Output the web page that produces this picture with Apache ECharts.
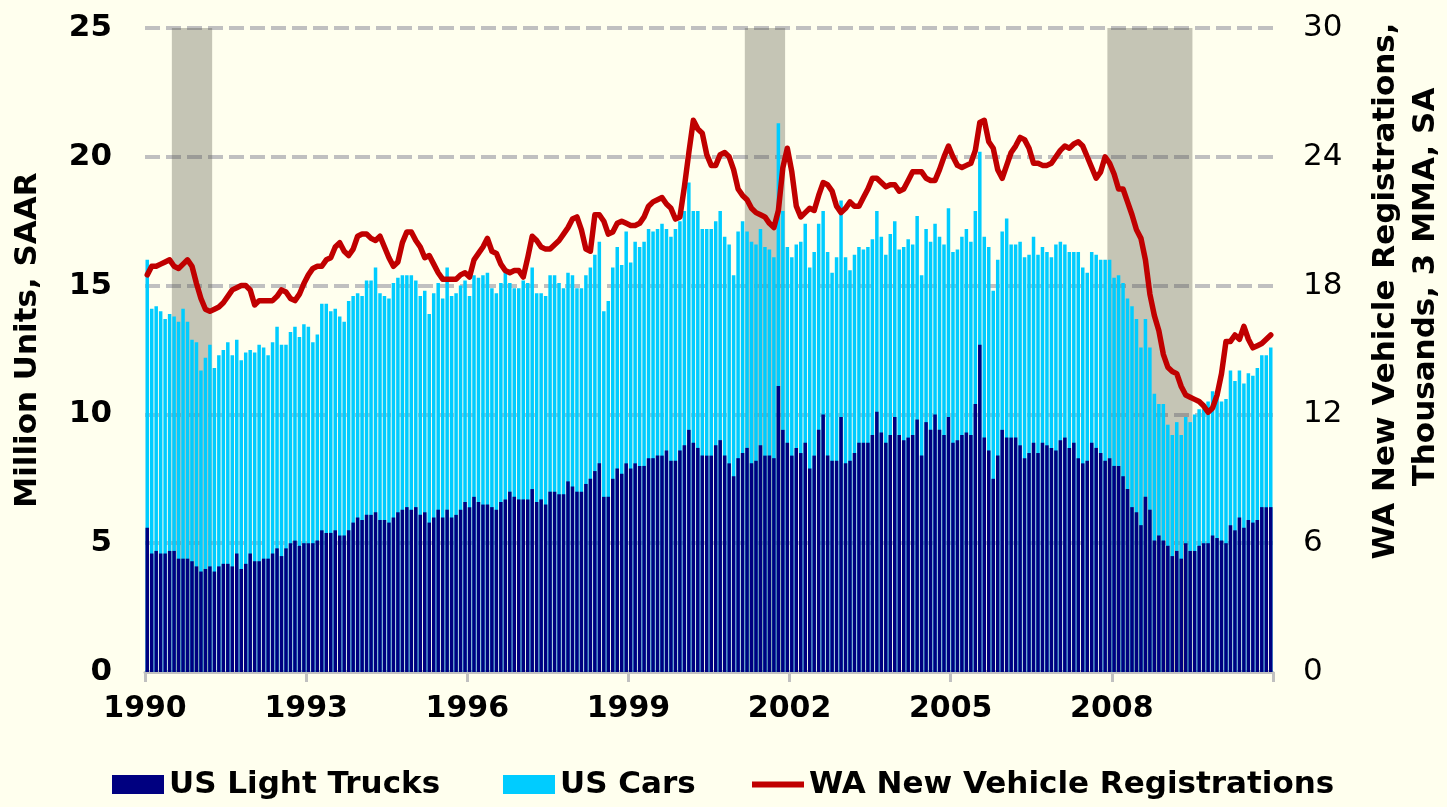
<!DOCTYPE html>
<html>
<head>
<meta charset="utf-8">
<title>US Light Vehicle Sales and WA New Vehicle Registrations</title>
<script src="https://cdn.jsdelivr.net/npm/echarts@6/dist/echarts.min.js"></script>
<style>
    html, body { margin: 0; padding: 0; background: #FFFFEE; }
    #chart { width: 1447px; height: 807px; }
</style>
</head>
<body>
<div id="chart"></div>
<script>
// Monthly data, Jan 1990 .. Dec 2010 (one row per year)
const yearTicks = ['1990', '1993', '1996', '1999', '2002', '2005', '2008'];

// US Light Trucks, million units SAAR
const trucks = [
    5.6, 4.6, 4.7, 4.6, 4.6, 4.7, 4.7, 4.4, 4.4, 4.4, 4.3, 4.1,
    3.9, 4.0, 4.1, 3.9, 4.1, 4.2, 4.2, 4.1, 4.6, 4.0, 4.2, 4.6,
    4.3, 4.3, 4.4, 4.4, 4.6, 4.8, 4.5, 4.8, 5.0, 5.1, 4.9, 5.0,
    5.0, 5.0, 5.1, 5.5, 5.4, 5.4, 5.5, 5.3, 5.3, 5.5, 5.8, 6.0,
    5.9, 6.1, 6.1, 6.2, 5.9, 5.9, 5.8, 6.0, 6.2, 6.3, 6.4, 6.3,
    6.4, 6.1, 6.2, 5.8, 6.0, 6.3, 6.0, 6.3, 6.0, 6.1, 6.3, 6.6,
    6.4, 6.8, 6.6, 6.5, 6.5, 6.4, 6.3, 6.6, 6.7, 7.0, 6.8, 6.7,
    6.7, 6.7, 7.1, 6.6, 6.7, 6.5, 7.0, 7.0, 6.9, 6.9, 7.4, 7.2,
    7.0, 7.0, 7.3, 7.5, 7.8, 8.1, 6.8, 6.8, 7.5, 7.9, 7.7, 8.1,
    7.9, 8.1, 8.0, 8.0, 8.3, 8.3, 8.4, 8.4, 8.6, 8.2, 8.2, 8.6,
    8.8, 9.4, 8.9, 8.7, 8.4, 8.4, 8.4, 8.8, 9.0, 8.4, 8.1, 7.6,
    8.3, 8.5, 8.7, 8.1, 8.2, 8.8, 8.4, 8.4, 8.3, 11.1, 9.4, 8.9,
    8.4, 8.7, 8.5, 8.9, 7.9, 8.4, 9.4, 10.0, 8.4, 8.2, 8.2, 9.9,
    8.1, 8.2, 8.5, 8.9, 8.9, 8.9, 9.2, 10.1, 9.3, 8.9, 9.2, 9.9,
    9.2, 9.0, 9.1, 9.2, 9.8, 8.4, 9.7, 9.4, 10.0, 9.4, 9.2, 9.9,
    8.9, 9.0, 9.2, 9.3, 9.2, 10.4, 12.7, 9.1, 8.6, 7.5, 8.4, 9.4,
    9.1, 9.1, 9.1, 8.8, 8.3, 8.5, 8.9, 8.5, 8.9, 8.8, 8.7, 8.6,
    9.0, 9.1, 8.7, 8.9, 8.3, 8.1, 8.2, 8.9, 8.7, 8.5, 8.2, 8.3,
    8.0, 8.0, 7.6, 7.1, 6.4, 6.2, 5.7, 6.8, 6.3, 5.1, 5.3, 5.1,
    4.9, 4.5, 4.7, 4.4, 5.0, 4.7, 4.7, 4.9, 5.0, 5.0, 5.3, 5.2,
    5.1, 5.0, 5.7, 5.5, 6.0, 5.6, 5.9, 5.8, 5.9, 6.4, 6.4, 6.4
];

// US Cars, million units SAAR (stacked on top of trucks)
const cars = [
    10.4, 9.5, 9.5, 9.4, 9.1, 9.2, 9.1, 9.2, 9.7, 9.2, 8.6, 8.7,
    7.8, 8.2, 8.6, 7.9, 8.2, 8.3, 8.6, 8.2, 8.3, 8.1, 8.2, 7.9,
    8.1, 8.4, 8.2, 7.9, 8.2, 8.6, 8.2, 7.9, 8.2, 8.3, 8.1, 8.5,
    8.4, 7.8, 8.0, 8.8, 8.9, 8.6, 8.6, 8.5, 8.3, 8.9, 8.8, 8.7,
    8.7, 9.1, 9.1, 9.5, 8.8, 8.7, 8.7, 9.1, 9.1, 9.1, 9.0, 9.1,
    8.8, 8.5, 8.6, 8.1, 8.7, 8.8, 8.5, 9.4, 8.6, 8.6, 8.7, 8.6,
    8.2, 8.6, 8.7, 8.9, 9.0, 8.5, 8.4, 8.5, 8.8, 8.1, 8.1, 8.2,
    8.5, 8.4, 8.6, 8.1, 8.0, 8.1, 8.4, 8.4, 8.2, 8.0, 8.1, 8.2,
    7.9, 7.9, 8.1, 8.2, 8.4, 8.6, 7.2, 7.6, 8.2, 8.6, 8.1, 9.0,
    8.0, 8.6, 8.5, 8.7, 8.9, 8.8, 8.8, 9.0, 8.6, 8.7, 9.0, 8.9,
    9.1, 9.6, 9.0, 9.2, 8.8, 8.8, 8.8, 8.7, 8.9, 8.5, 8.5, 7.8,
    8.8, 9.0, 8.4, 8.6, 8.4, 8.4, 8.1, 8.0, 7.8, 10.2, 8.5, 7.6,
    7.7, 7.9, 8.2, 8.5, 7.8, 7.9, 8.0, 7.9, 7.9, 7.3, 7.9, 8.4,
    8.0, 7.4, 7.7, 7.6, 7.5, 7.6, 7.6, 7.8, 7.6, 7.3, 7.8, 7.6,
    7.2, 7.5, 7.7, 7.4, 7.9, 7.0, 7.5, 7.3, 7.4, 7.5, 7.4, 8.1,
    7.4, 7.4, 7.7, 7.9, 7.5, 7.5, 7.5, 7.8, 7.9, 7.3, 7.6, 7.7,
    8.5, 7.5, 7.5, 7.9, 7.8, 7.7, 8.0, 7.7, 7.6, 7.5, 7.4, 8.0,
    7.7, 7.5, 7.6, 7.4, 8.0, 7.6, 7.3, 7.4, 7.5, 7.5, 7.8, 7.7,
    7.3, 7.4, 7.5, 7.4, 7.8, 7.5, 6.9, 6.9, 6.3, 5.7, 5.1, 5.3,
    4.7, 4.7, 5.0, 4.8, 4.9, 5.0, 5.3, 5.3, 5.2, 5.5, 5.6, 5.6,
    5.4, 5.6, 6.0, 5.8, 5.7, 5.6, 5.7, 5.7, 5.9, 5.9, 5.9, 6.2
];

// WA new vehicle registrations, thousands, 3 MMA, SA (right axis)
const waRegs = [
    18.5, 18.9, 18.9, 19.0, 19.1, 19.2, 18.9, 18.8, 19.0, 19.2, 18.9, 18.1,
    17.4, 16.9, 16.8, 16.9, 17.0, 17.2, 17.5, 17.8, 17.9, 18.0, 18.0, 17.8,
    17.1, 17.3, 17.3, 17.3, 17.3, 17.5, 17.8, 17.7, 17.4, 17.3, 17.6, 18.1,
    18.5, 18.8, 18.9, 18.9, 19.2, 19.3, 19.8, 20.0, 19.6, 19.4, 19.7, 20.3,
    20.4, 20.4, 20.2, 20.1, 20.3, 19.8, 19.3, 18.9, 19.1, 20.0, 20.5, 20.5,
    20.1, 19.8, 19.3, 19.4, 19.0, 18.6, 18.3, 18.3, 18.3, 18.3, 18.5, 18.6,
    18.4, 19.2, 19.5, 19.8, 20.2, 19.6, 19.5, 19.0, 18.7, 18.6, 18.7, 18.7,
    18.4, 19.3, 20.3, 20.1, 19.8, 19.7, 19.7, 19.9, 20.1, 20.4, 20.7, 21.1,
    21.2, 20.6, 19.7, 19.6, 21.3, 21.3, 21.0, 20.4, 20.5, 20.9, 21.0, 20.9,
    20.8, 20.8, 20.9, 21.2, 21.7, 21.9, 22.0, 22.1, 21.8, 21.6, 21.1, 21.2,
    22.6, 24.2, 25.7, 25.3, 25.1, 24.1, 23.6, 23.6, 24.1, 24.2, 24.0, 23.4,
    22.5, 22.2, 22.0, 21.6, 21.4, 21.3, 21.2, 20.9, 20.7, 21.5, 23.5, 24.4,
    23.3, 21.7, 21.2, 21.4, 21.6, 21.5, 22.2, 22.8, 22.7, 22.4, 21.7, 21.4,
    21.6, 21.9, 21.7, 21.7, 22.1, 22.5, 23.0, 23.0, 22.8, 22.6, 22.7, 22.7,
    22.4, 22.5, 22.9, 23.3, 23.3, 23.3, 23.0, 22.9, 22.9, 23.4, 24.0, 24.5,
    24.0, 23.6, 23.5, 23.6, 23.7, 24.3, 25.6, 25.7, 24.7, 24.4, 23.4, 23.0,
    23.6, 24.2, 24.5, 24.9, 24.8, 24.4, 23.7, 23.7, 23.6, 23.6, 23.7, 24.0,
    24.3, 24.5, 24.4, 24.6, 24.7, 24.5, 24.0, 23.5, 23.0, 23.3, 24.0, 23.7,
    23.2, 22.5, 22.5, 21.9, 21.3, 20.6, 20.2, 19.2, 17.6, 16.6, 15.9, 14.8,
    14.2, 14.0, 13.9, 13.3, 12.9, 12.8, 12.7, 12.6, 12.4, 12.1, 12.3, 12.9,
    13.9, 15.4, 15.4, 15.7, 15.5, 16.1, 15.5, 15.1, 15.2, 15.3, 15.5, 15.7
];

// recessions as [first month index, month index after the last month]
const recessions = [[6, 15], [134, 143], [215, 234]];

const FONT = 'DejaVu Sans';
const months = trucks.length;

// month i is drawn centred in [i, i + 1]
const toPoints = arr => arr.map((v, i) => [i + 0.5, v]);
// cars sit on top of trucks: the cyan bar runs up to the sum
const carTops = cars.map((v, i) => v + trucks[i]);

const legendText = { fontFamily: FONT, fontWeight: 'bold', fontSize: 31, color: '#000' };
// one legend per entry so each can sit where the original puts it
const legendAt = (left, item) => ({
    left: left,
    top: 769,
    padding: 0,
    itemWidth: 52,
    itemHeight: 19,
    textStyle: legendText,
    data: [item]
});

// axis titles, written bottom-to-top
const sideTitle = (x, y, text) => ({
    type: 'text',
    x: x,
    y: y,
    rotation: Math.PI / 2,
    silent: true,
    style: {
        text: text,
        fill: '#000',
        fontFamily: FONT,
        fontWeight: 'bold',
        fontSize: 31,
        textAlign: 'center',
        textVerticalAlign: 'middle'
    }
});

const chart = echarts.init(document.getElementById('chart'), null, { renderer: 'canvas' });

const option = {
    backgroundColor: '#FFFFEE',
    animation: false,
    grid: { left: 145, right: 174, top: 28, bottom: 135, outerBoundsMode: 'none', containLabel: false },
    graphic: [
        sideTitle(28, 340, 'Million Units, SAAR'),
        sideTitle(1386, 291, 'WA New Vehicle Registrations,'),
        sideTitle(1426, 287, 'Thousands, 3 MMA, SA')
    ],
    legend: [
        legendAt(112, { name: 'US Light Trucks', icon: 'rect' }),
        legendAt(503, { name: 'US Cars', icon: 'rect' }),
        // thick line in the middle of a 52x19 box
        legendAt(752, { name: 'WA New Vehicle Registrations', icon: 'path://M0,0M52,19M0,6.5H52V12.5H0Z' })
    ],
    xAxis: {
        type: 'value',
        min: 0,
        max: months,
        interval: 36,
        axisLine: { show: true, onZero: false, lineStyle: { color: '#C0C0C0', width: 3 } },
        axisTick: { show: true, length: 10, lineStyle: { color: '#C0C0C0', width: 3 } },
        splitLine: { show: false },
        axisLabel: {
            formatter: v => yearTicks[v / 36] || '',
            fontFamily: FONT,
            fontWeight: 'bold',
            fontSize: 30,
            color: '#000',
            margin: 22
        }
    },
    yAxis: [
        {
            type: 'value',
            min: 0,
            max: 25,
            interval: 5,
            axisLine: { show: false },
            axisTick: { show: false },
            axisLabel: { fontFamily: FONT, fontWeight: 'bold', fontSize: 31, color: '#000', margin: 33 },
            splitLine: { lineStyle: { color: '#C0C0C0', width: 4, type: [15, 6] } }
        },
        {
            type: 'value',
            min: 0,
            max: 30,
            interval: 6,
            position: 'right',
            axisLine: { show: false },
            axisTick: { show: false },
            axisLabel: { fontFamily: FONT, fontSize: 31, color: '#000', margin: 30 },
            splitLine: { show: false }
        }
    ],
    series: [
        {
            name: 'US Cars',
            type: 'bar',
            barWidth: 3.5,
            barGap: '-100%',
            itemStyle: { color: '#00CCFF' },
            data: toPoints(carTops),
            z: 2
        },
        {
            name: 'US Light Trucks',
            type: 'bar',
            barWidth: 3.5,
            barGap: '-100%',
            itemStyle: { color: '#000080' },
            data: toPoints(trucks),
            z: 2
        },
        {
            // recession shading, drawn over the bars
            name: 'Recessions',
            type: 'line',
            data: [],
            z: 3,
            markArea: {
                silent: true,
                itemStyle: { color: 'rgba(80, 80, 66, 0.33)' },
                data: recessions.map(r => [{ xAxis: r[0] }, { xAxis: r[1] }])
            }
        },
        {
            name: 'WA New Vehicle Registrations',
            type: 'line',
            yAxisIndex: 1,
            symbol: 'none',
            lineStyle: { color: '#C00000', width: 5.5, cap: 'round', join: 'round' },
            itemStyle: { color: '#C00000' },
            data: toPoints(waRegs),
            z: 4
        }
    ]
};

chart.setOption(option);
</script>
</body>
</html>
